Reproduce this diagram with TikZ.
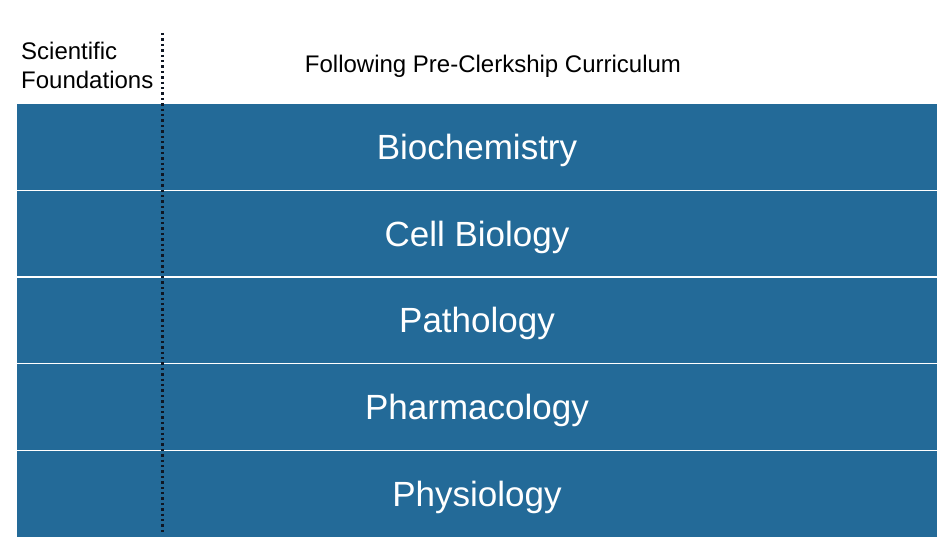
\documentclass[tikz,border=0pt]{standalone}
\usepackage{fontspec}
\setmainfont{Liberation Sans}
\definecolor{barblue}{RGB}{35,106,152}
\definecolor{dotline}{RGB}{15,22,35}
\begin{document}
\begin{tikzpicture}[x=1pt,y=-1pt,
  bar/.style={fill=barblue,draw=none},
  sep/.style={draw=white,line width=1.6pt},
  barlabel/.style={text=white,font=\fontsize{35}{38}\selectfont,inner sep=0pt},
  headlabel/.style={text=black,font=\fontsize{24}{29}\selectfont,inner sep=0pt}]
\useasboundingbox (0,0) rectangle (946,553);
\fill[white] (0,0) rectangle (946,553);
\path[bar] (17,104) rectangle (937,537);
\foreach \y in {190.5,277,363.5,450.5} \draw[sep] (17,\y) -- (937,\y);
\node[barlabel] (bio) at (477,150) {Biochemistry};
\node[barlabel] (cell) at (477,237) {Cell Biology};
\node[barlabel] (path) at (477,323) {Pathology};
\node[barlabel] (pharm) at (477,410) {Pharmacology};
\node[barlabel] (phys) at (477,497) {Physiology};
\node[headlabel,anchor=west,align=left] (sci) at (21,65) {Scientific\\Foundations};
\node[headlabel] (fol) at (493,66) {Following Pre-Clerkship Curriculum};
\coordinate (dtop) at (162.5,33);
\coordinate (dbot) at (162.5,533);
\draw[dotline,line width=2.4pt,dash pattern=on 2.4pt off 3pt] (dtop) -- (dbot);
\end{tikzpicture}
\end{document}
